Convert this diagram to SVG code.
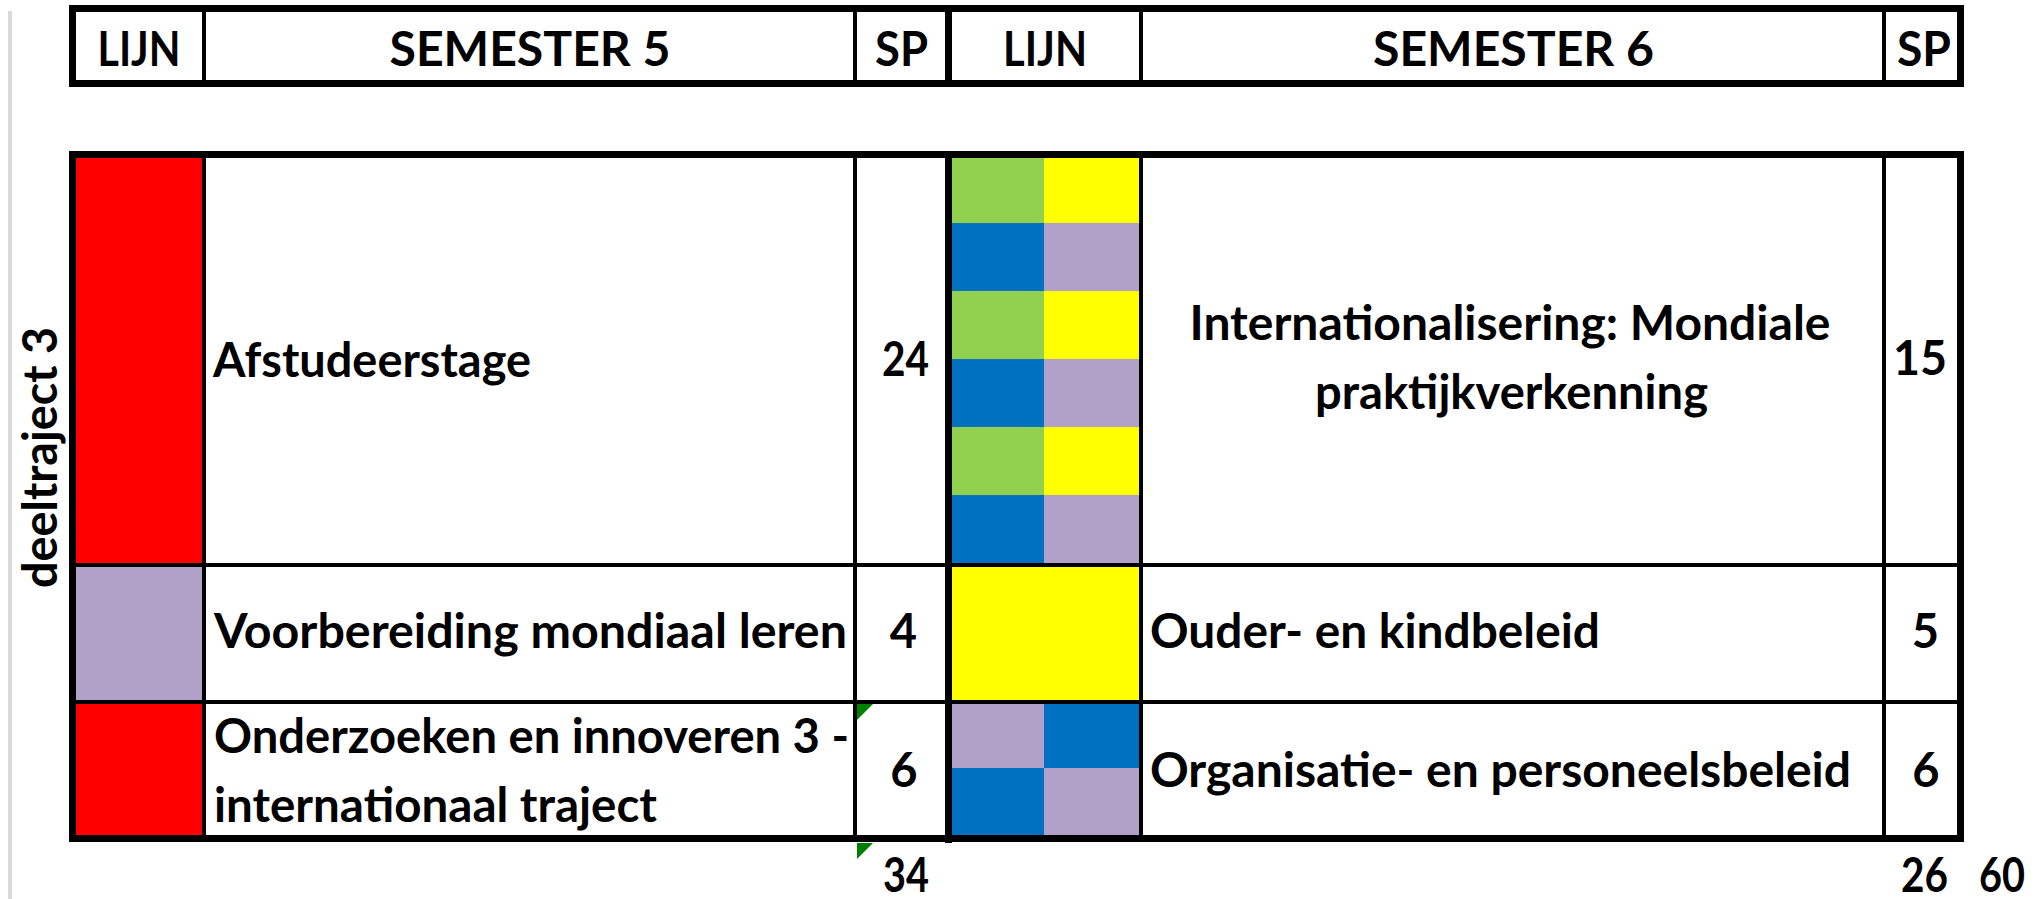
<svg xmlns="http://www.w3.org/2000/svg" width="2037" height="899" viewBox="0 0 2037 899">
<style>
text{font-family:Lato,"Liberation Sans",Arial,sans-serif;font-weight:bold;font-size:47px;fill:#000}
.c{text-anchor:middle}
.b{stroke:#000;fill:none}
.t7{stroke-width:7}
.t4{stroke-width:4}
.r{fill:#FF0000}.p{fill:#B1A0C7}.g{fill:#92D050}.y{fill:#FFFF00}.u{fill:#0070C0}
.tri{fill:#008000}
</style>
<rect width="2037" height="899" fill="#fff"/>
<line x1="10" y1="11" x2="10" y2="899" stroke="#d9d9d9" stroke-width="4"/>

<g id="header">
  <rect x="72.5" y="8.5" width="1888" height="75" class="b t7"/>
  <g class="b">
    <line x1="204" y1="12" x2="204" y2="80" class="t4"/>
    <line x1="855" y1="12" x2="855" y2="80" class="t4"/>
    <line x1="948.5" y1="12" x2="948.5" y2="80" class="t7"/>
    <line x1="1141" y1="12" x2="1141" y2="80" class="t4"/>
    <line x1="1884" y1="12" x2="1884" y2="80" class="t4"/>
  </g>
  <text class="c" x="139" y="66" textLength="83" lengthAdjust="spacingAndGlyphs">LIJN</text>
  <text class="c" x="530" y="66" textLength="281" lengthAdjust="spacingAndGlyphs">SEMESTER 5</text>
  <text class="c" x="901.5" y="66" textLength="53" lengthAdjust="spacingAndGlyphs">SP</text>
  <text class="c" x="1045" y="66" textLength="84" lengthAdjust="spacingAndGlyphs">LIJN</text>
  <text class="c" x="1513.5" y="66" textLength="281" lengthAdjust="spacingAndGlyphs">SEMESTER 6</text>
  <text class="c" x="1924" y="66" textLength="54" lengthAdjust="spacingAndGlyphs">SP</text>
</g>

<g id="label-deeltraject">
  <text transform="translate(57,588) rotate(-90)" x="0" y="0" font-size="40" textLength="261" lengthAdjust="spacingAndGlyphs">deeltraject 3</text>
</g>

<g id="lijn5">
  <rect x="76" y="158" width="127" height="406" class="r"/>
  <rect x="76" y="566" width="127" height="135" class="p"/>
  <rect x="76" y="703" width="127" height="133" class="r"/>
</g>

<g id="lijn6">
  <rect x="952" y="158" width="92" height="65" class="g"/>
  <rect x="1044" y="158" width="96" height="65" class="y"/>
  <rect x="952" y="223" width="92" height="68" class="u"/>
  <rect x="1044" y="223" width="96" height="68" class="p"/>
  <rect x="952" y="291" width="92" height="68" class="g"/>
  <rect x="1044" y="291" width="96" height="68" class="y"/>
  <rect x="952" y="359" width="92" height="68" class="u"/>
  <rect x="1044" y="359" width="96" height="68" class="p"/>
  <rect x="952" y="427" width="92" height="68" class="g"/>
  <rect x="1044" y="427" width="96" height="68" class="y"/>
  <rect x="952" y="495" width="92" height="69" class="u"/>
  <rect x="1044" y="495" width="96" height="69" class="p"/>
  <rect x="952" y="566" width="188" height="135" class="y"/>
  <rect x="952" y="703" width="92" height="65" class="p"/>
  <rect x="1044" y="703" width="96" height="65" class="u"/>
  <rect x="952" y="768" width="92" height="68" class="u"/>
  <rect x="1044" y="768" width="96" height="68" class="p"/>
</g>

<g id="grid" class="b">
  <rect x="72.5" y="154.5" width="1888" height="684" class="t7"/>
  <line x1="76" y1="565" x2="1957" y2="565" class="t4"/>
  <line x1="76" y1="702" x2="1957" y2="702" class="t4"/>
  <line x1="204" y1="158" x2="204" y2="835" class="t4"/>
  <line x1="855" y1="158" x2="855" y2="835" class="t4"/>
  <line x1="948.5" y1="158" x2="948.5" y2="843" class="t7"/>
  <line x1="1141" y1="158" x2="1141" y2="835" class="t4"/>
  <line x1="1884" y1="158" x2="1884" y2="835" class="t4"/>
</g>

<g id="row1">
  <text x="213" y="377" textLength="318" lengthAdjust="spacingAndGlyphs">Afstudeerstage</text>
  <text class="c" x="905.5" y="376" textLength="47" lengthAdjust="spacingAndGlyphs">24</text>
  <text class="c" x="1510" y="340" textLength="641" lengthAdjust="spacingAndGlyphs">Internationalisering: Mondiale</text>
  <text class="c" x="1511.5" y="409" textLength="393" lengthAdjust="spacingAndGlyphs">praktijkverkenning</text>
  <text class="c" x="1920" y="375" textLength="54" lengthAdjust="spacingAndGlyphs">15</text>
</g>

<g id="row2">
  <text x="214" y="648" textLength="633" lengthAdjust="spacingAndGlyphs">Voorbereiding mondiaal leren</text>
  <text class="c" x="903.5" y="648">4</text>
  <text x="1150" y="648" textLength="450" lengthAdjust="spacingAndGlyphs">Ouder- en kindbeleid</text>
  <text class="c" x="1925.5" y="648">5</text>
</g>

<g id="row3">
  <text x="214" y="753" textLength="635" lengthAdjust="spacingAndGlyphs">Onderzoeken en innoveren 3 -</text>
  <text x="214" y="822" textLength="443" lengthAdjust="spacingAndGlyphs">internationaal traject</text>
  <text class="c" x="904" y="787">6</text>
  <text x="1150" y="787" textLength="701" lengthAdjust="spacingAndGlyphs">Organisatie- en personeelsbeleid</text>
  <text class="c" x="1926" y="787">6</text>
  <polygon class="tri" points="857,704 873,704 857,720"/>
</g>

<g id="totals">
  <polygon class="tri" points="857,843 873,843 857,859"/>
  <text class="c" x="906" y="892" textLength="46" lengthAdjust="spacingAndGlyphs">34</text>
  <text class="c" x="1924.5" y="892" textLength="47" lengthAdjust="spacingAndGlyphs">26</text>
  <text class="c" x="2002" y="892" textLength="46" lengthAdjust="spacingAndGlyphs">60</text>
</g>
</svg>
